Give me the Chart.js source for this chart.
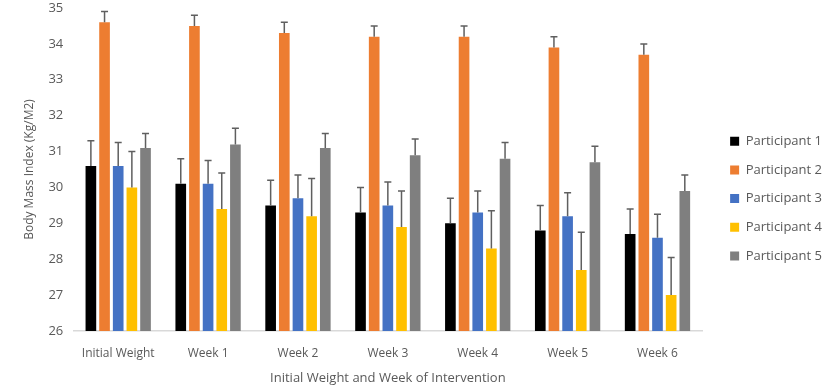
<!DOCTYPE html>
<html>
<head>
<meta charset="utf-8">
<script src="https://cdn.jsdelivr.net/npm/chart.js@4.4.0/dist/chart.umd.min.js"></script>
<style>
  html, body { margin: 0; padding: 0; background: #fff; }
  #wrap { width: 827px; height: 388px; }
</style>
</head>
<body>
<div id="wrap"><canvas id="bmiChart"></canvas></div>
<script>
// Body mass index per participant over the intervention
const weeks = ['Initial Weight', 'Week 1', 'Week 2', 'Week 3', 'Week 4', 'Week 5', 'Week 6'];
const participants = ['Participant 1', 'Participant 2', 'Participant 3', 'Participant 4', 'Participant 5'];

const p1 = [30.6, 30.1, 29.5, 29.3, 29.0, 28.8, 28.7];
const p2 = [34.6, 34.5, 34.3, 34.2, 34.2, 33.9, 33.7];
const p3 = [30.6, 30.1, 29.7, 29.5, 29.3, 29.2, 28.6];
const p4 = [30.0, 29.4, 29.2, 28.9, 28.3, 27.7, 27.0];
const p5 = [31.1, 31.2, 31.1, 30.9, 30.8, 30.7, 29.9];

// upper error bar lengths
const p1Err = [0.7, 0.7, 0.7, 0.7, 0.7, 0.7, 0.7];
const p2Err = [0.3, 0.3, 0.3, 0.3, 0.3, 0.3, 0.3];
const p3Err = [0.65, 0.65, 0.65, 0.65, 0.6, 0.65, 0.65];
const p4Err = [1.0, 1.0, 1.05, 1.0, 1.05, 1.05, 1.05];
const p5Err = [0.4, 0.45, 0.4, 0.45, 0.45, 0.45, 0.45];

const yTicks = [26, 27, 28, 29, 30, 31, 32, 33, 34, 35];

const colors = ['#000000', '#ED7D31', '#4472C4', '#FFC000', '#7F7F7F'];
const seriesValues = [p1, p2, p3, p4, p5];
const seriesErrors = [p1Err, p2Err, p3Err, p4Err, p5Err];

const textColor = '#595959';
const fontFamily = "'Open Sans', 'Noto Sans', sans-serif";

const errorBars = {
    id: 'errorBars',
    afterDatasetsDraw(chart) {
        const ctx = chart.ctx;
        const yScale = chart.scales.y;
        ctx.save();
        ctx.strokeStyle = '#5f5f5f';
        ctx.lineWidth = 1.5;
        chart.data.datasets.forEach((ds, di) => {
            const meta = chart.getDatasetMeta(di);
            meta.data.forEach((bar, i) => {
                const top = yScale.getPixelForValue(ds.data[i] + ds.errUp[i]);
                ctx.beginPath();
                ctx.moveTo(bar.x, bar.y);
                ctx.lineTo(bar.x, top);
                ctx.moveTo(bar.x - 3.5, top);
                ctx.lineTo(bar.x + 3.5, top);
                ctx.stroke();
            });
        });
        ctx.restore();
    }
};

new Chart(document.getElementById('bmiChart'), {
    type: 'bar',
    data: {
        labels: weeks,
        datasets: participants.map((name, i) => ({
            label: name,
            data: seriesValues[i],
            errUp: seriesErrors[i],
            backgroundColor: colors[i],
            borderWidth: 0,
            categoryPercentage: 0.76,
            barPercentage: 0.78,
        }))
    },
    options: {
        responsive: true,
        maintainAspectRatio: false,
        animation: false,
        layout: { padding: { left: 18, right: -5, top: 0, bottom: -2 } },
        plugins: {
            tooltip: { enabled: false },
            legend: {
                position: 'right',
                title: { display: true, text: '', font: { size: 1 }, padding: { top: 6, bottom: 0 } },
                labels: {
                    boxWidth: 9,
                    boxHeight: 9,
                    padding: 15.7,
                    color: textColor,
                    font: { family: fontFamily, size: 13 }
                }
            }
        },
        scales: {
            y: {
                min: 26,
                max: 35,
                afterBuildTicks: axis => { axis.ticks = yTicks.map(v => ({ value: v })); },
                afterFit: s => { s.paddingTop = 8; },
                grid: { display: false, drawTicks: false },
                border: { display: false },
                ticks: { color: textColor, padding: 10, font: { family: fontFamily, size: 13 } },
                title: {
                    display: true,
                    text: 'Body Mass Index (Kg/M2)',
                    color: textColor,
                    font: { family: fontFamily, size: 12 },
                    padding: { top: 4, bottom: 2 }
                }
            },
            // empty spacer between the plot and the legend
            gap: {
                position: 'right',
                display: true,
                grid: { display: false, drawTicks: false },
                border: { display: false },
                ticks: { display: false },
                afterFit: s => { s.width = 12; }
            },
            x: {
                grid: { display: false, drawTicks: false },
                border: { display: true, color: '#D9D9D9', width: 1.5 },
                ticks: { color: textColor, padding: 15, font: { family: fontFamily, size: 12 } },
                title: {
                    display: true,
                    text: 'Initial Weight and Week of Intervention',
                    color: textColor,
                    font: { family: fontFamily, size: 13 },
                    padding: { top: -5, bottom: 4 }
                }
            }
        }
    },
    plugins: [errorBars]
});
</script>
</body>
</html>
